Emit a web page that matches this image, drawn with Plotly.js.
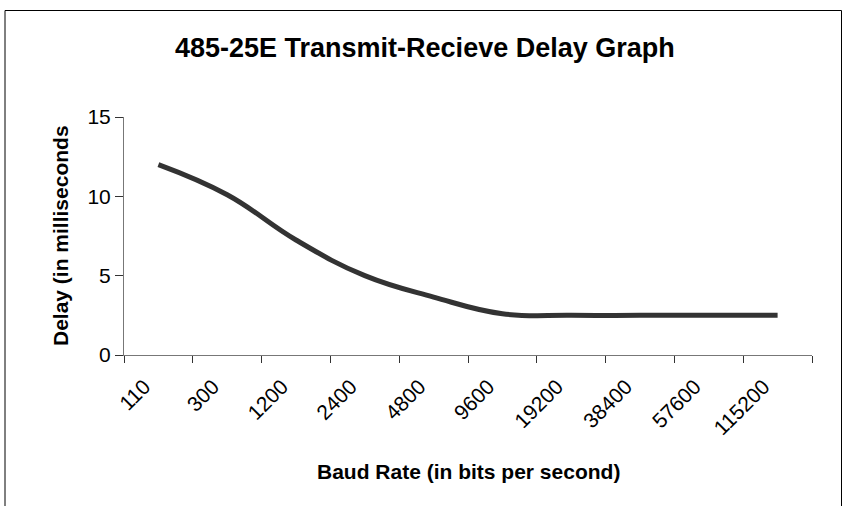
<!DOCTYPE html>
<html>
<head>
<meta charset="utf-8">
<script src="https://cdn.plot.ly/plotly-3.0.1.min.js"></script>
<style>
  html, body { margin: 0; padding: 0; background: #fff; }
  #chart { width: 843px; height: 506px; }
</style>
</head>
<body>
<div id="chart"></div>
<script>
const baudRates = ['110', '300', '1200', '2400', '4800', '9600', '19200', '38400', '57600', '115200'];
const delayMs = [12, 10.1, 7.25, 5.0, 3.65, 2.6, 2.5, 2.5, 2.5, 2.5];
const yTicks = [0, 5, 10, 15];

const chartTitle = '485-25E Transmit-Recieve Delay Graph';
const xTitle = 'Baud Rate (in bits per second)';
const yTitle = 'Delay (in milliseconds';

const FONT = 'Liberation Sans, Arial, sans-serif';

const trace = {
  type: 'scatter',
  mode: 'lines',
  x: baudRates,
  y: delayMs,
  line: { color: '#333333', width: 5, shape: 'spline', smoothing: 1.2 },
  hoverinfo: 'x+y'
};

const layout = {
  width: 843,
  height: 506,
  margin: { l: 124, r: 31, t: 117, b: 151, pad: 0 },
  paper_bgcolor: '#ffffff',
  plot_bgcolor: '#ffffff',
  showlegend: false,
  font: { family: FONT, color: '#000000' },
  title: {
    text: chartTitle,
    font: { family: FONT, size: 27, weight: 'bold', color: '#000000' },
    xref: 'container', yref: 'container',
    x: 0.504, xanchor: 'center',
    y: 1 - 48 / 506, yanchor: 'middle'
  },
  xaxis: {
    type: 'category',
    categoryorder: 'array',
    categoryarray: baudRates,
    range: [-0.5, baudRates.length - 0.5],
    tickson: 'boundaries',
    ticks: 'outside',
    ticklen: 7,
    tickwidth: 1,
    tickcolor: '#333333',
    tickangle: -45,
    ticklabelshift: -14,
    ticklabelstandoff: 10,
    tickfont: { family: FONT, size: 21, color: '#000000' },
    showline: true,
    linecolor: '#777777',
    linewidth: 1,
    showgrid: false,
    zeroline: false,
    fixedrange: true
  },
  yaxis: {
    range: [0, 15],
    tickvals: yTicks,
    ticktext: yTicks.map(String),
    ticks: 'outside',
    ticklen: 8,
    tickwidth: 1,
    tickcolor: '#333333',
    tickfont: { family: FONT, size: 21, color: '#000000' },
    showline: true,
    linecolor: '#777777',
    linewidth: 1,
    showgrid: false,
    zeroline: false,
    fixedrange: true
  },
  annotations: [
    {
      text: xTitle,
      xref: 'paper', yref: 'paper',
      x: 0.5, y: (355 - 471) / 238,
      xanchor: 'center', yanchor: 'middle',
      showarrow: false,
      font: { family: FONT, size: 21, weight: 'bold', color: '#000000' }
    },
    {
      text: yTitle,
      xref: 'paper', yref: 'paper',
      x: (60 - 124) / 688, y: 0.5,
      xanchor: 'center', yanchor: 'middle',
      textangle: -90,
      showarrow: false,
      font: { family: FONT, size: 21, weight: 'bold', color: '#000000' }
    }
  ],
  shapes: [
    {
      type: 'rect',
      xref: 'paper', yref: 'paper',
      x0: (5 - 124) / 688, x1: (841.5 - 124) / 688,
      y0: (355 - 530) / 238, y1: (355 - 10.5) / 238,
      line: { color: '#000000', width: 1 },
      fillcolor: 'rgba(0,0,0,0)',
      layer: 'below'
    }
  ]
};

Plotly.newPlot('chart', [trace], layout, { displayModeBar: false, staticPlot: true });
</script>
</body>
</html>
